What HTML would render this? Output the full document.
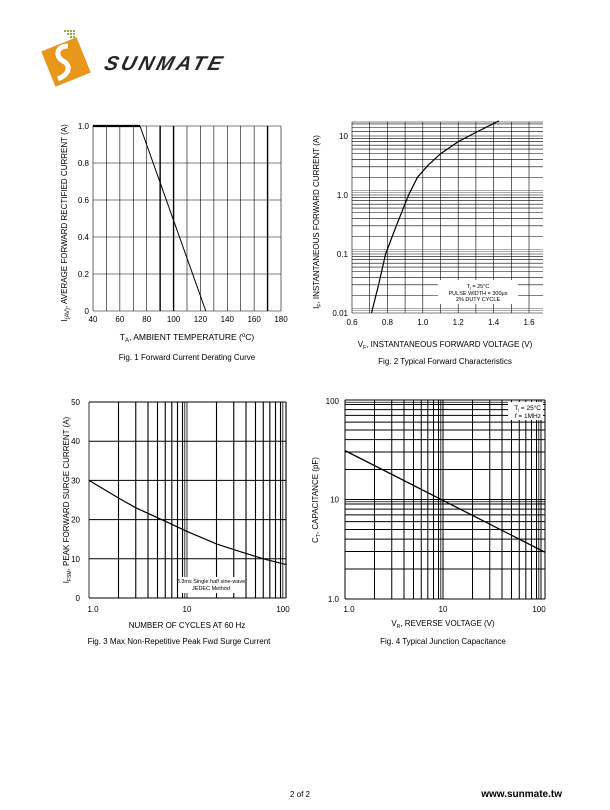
<!DOCTYPE html>
<html><head><meta charset="utf-8"><style>
body{margin:0;background:#fff;width:610px;height:810px;overflow:hidden;font-family:"Liberation Sans",sans-serif}
svg{position:absolute;left:0;top:0}
</style></head><body>
<svg id="s" width="610" height="810" viewBox="0 0 610 810" font-family="Liberation Sans, sans-serif"></svg>
<script>
var o='';
function L(x1,y1,x2,y2,w,c){o+='<line x1="'+x1+'" y1="'+y1+'" x2="'+x2+'" y2="'+y2+'" stroke="'+(c||'#000')+'" stroke-width="'+(w||0.8)+'"/>';}
function T(x,y,t,sz,a,extra){o+='<text x="'+x+'" y="'+y+'" font-size="'+(sz||8)+'" text-anchor="'+(a||'middle')+'" '+(extra||'')+'>'+t+'</text>';}
var lg=Math.log10;
// logo
o+='<g transform="translate(66,62) rotate(-22)"><rect x="-19" y="-19" width="38" height="38" fill="#e8961c"/></g>';
o+='<path d="M68,46 C56,46 55,57 63,61 C71,65 70,74 58,79" stroke="#fff" stroke-width="5" fill="none"/>';
for(var i=0;i<4;i++)for(var j=0;j<=i;j++)o+='<rect x="'+(64+i*3)+'" y="'+(30+j*3)+'" width="2" height="2" fill="#9aa84a"/>';
T(104,70,'SUNMATE',20,'start','font-weight="bold" font-style="italic" fill="#2a2522" letter-spacing="3" textLength="120" lengthAdjust="spacingAndGlyphs" transform="skewX(-15) translate(18,0)"');
// Fig1
var x0=93,x1=281,y0=126,y1=311;
for(var t=40;t<=180;t+=10){var x=x0+(t-40)/140*(x1-x0);L(x,y0,x,y1,(t==90||t==100||t==170)?1.4:0.6);}
for(var v=0;v<=1;v+=0.2){var y=y1-v*(y1-y0);L(x0,y,x1,y,0.6);T(x0-4,y+3,v<0.01?'0':v.toFixed(1),8,'end');}
for(var t=40;t<=180;t+=20)T(x0+(t-40)/140*(x1-x0),y1+11,t,8);
L(x0,y0,x0+(75-40)/140*188,y0,2.2);
L(x0+(75-40)/140*188,y0,x0+(124-40)/140*188,y1,1);
T(187,340,'T<tspan font-size="6" dy="2">A</tspan><tspan dy="-2">, AMBIENT TEMPERATURE (</tspan><tspan font-size="6" dy="-3">o</tspan><tspan dy="3">C)</tspan>',8.5);
T(187,360,'Fig. 1 Forward Current Derating Curve',8);
T(0,0,'I<tspan font-size="6" dy="2">(AV)</tspan><tspan dy="-2">, AVERAGE FORWARD RECTIFIED CURRENT (A)</tspan>',8,'middle','transform="translate(67,223) rotate(-90)"');
// Fig2
x0=352;x1=543;y0=122;y1=313;var dec=59;
function Y2(v){return 313-(lg(v)+2)*dec;}
for(var v=0.6;v<=1.71;v+=0.1){var x=x0+(v-0.6)*177;if(x<=x1+1)L(x,y0,x,y1,0.6);}
[0.01,0.1,1].forEach(function(d){for(var k=1;k<10;k++){var y=Y2(d*k);L(x0,y,x1,y,0.6);}L(x0,Y2(d*1.1),x1,Y2(d*1.1),0.5,'#555');L(x0,Y2(d*1.2),x1,Y2(d*1.2),0.5,'#555');});
L(x0,Y2(10),x1,Y2(10),0.6);
[12,14,16].forEach(function(v){L(x0,Y2(v),x1,Y2(v),0.6);});
L(x0,y0,x1,y0,0.6);
o+='<rect x="438" y="280" width="80" height="24" fill="#fff"/>';
T(478,288,'T<tspan font-size="4" dy="1">j</tspan><tspan dy="-1"> = 25°C</tspan>',5.5);
T(478,295,'PULSE WIDTH = 300μs',5.5);T(478,301,'2% DUTY CYCLE',5.5);
var pts=[[0.71,0.01],[0.75,0.03],[0.79,0.1],[0.85,0.3],[0.92,1],[0.97,2],[1.03,3.2],[1.1,5],[1.2,8],[1.3,11.5],[1.43,18]];
var d='';pts.forEach(function(p,i){d+=(i?'L':'M')+(x0+(p[0]-0.6)*177).toFixed(1)+','+Y2(p[1]).toFixed(1);});
o+='<path d="'+d+'" stroke="#000" stroke-width="1.2" fill="none" stroke-linejoin="round"/>';
[['10',10],['1.0',1],['0.1',0.1],['0.01',0.01]].forEach(function(a){T(x0-4,Y2(a[1])+3,a[0],8,'end');});
for(var v=0.6;v<=1.61;v+=0.2)T(x0+(v-0.6)*177,y1+12,v.toFixed(1),8);
T(445,347,'V<tspan font-size="5" dy="2">F</tspan><tspan dy="-2">, INSTANTANEOUS FORWARD VOLTAGE (V)</tspan>',8);
T(445,364,'Fig. 2 Typical Forward Characteristics',8);
T(0,0,'I<tspan font-size="5" dy="2">F</tspan><tspan dy="-2">, INSTANTANEOUS FORWARD CURRENT (A)</tspan>',8,'middle','transform="translate(319,222) rotate(-90)"');
// Fig3
x0=89;x1=286;y0=402;y1=598;
function X3(v){return 89+lg(v)*98;}
[1,10].forEach(function(d){for(var k=1;k<10;k++){var x=X3(d*k);L(x,y0,x,y1,k==1?0.8:1.1);}});
L(X3(9.5),y0,X3(9.5),y1,0.8);L(X3(95),y0,X3(95),y1,0.8);L(x1,y0,x1,y1,1.1);
for(var v=0;v<=50;v+=10){var y=y1-v*3.92;L(x0,y,x1,y,1);T(x0-9,y+3,v,8,'end');}
o+='<rect x="180" y="577" width="62" height="16" fill="#fff"/>';
T(211,583,'8.3ms Single half sine-wave',5.5);T(211,590,'JEDEC Method',5.5);
pts=[[1,30],[2,25.5],[3,23],[5.5,20],[10,17],[20,13.8],[35,11.8],[60,10],[100,8.6],[104,8.5]];
d='';pts.forEach(function(p,i){d+=(i?'L':'M')+X3(p[0]).toFixed(1)+','+(y1-p[1]*3.92).toFixed(1);});
o+='<path d="'+d+'" stroke="#000" stroke-width="1.2" fill="none"/>';
T(x0+4,y1+14,'1.0',8);T(X3(10),y1+14,'10',8);T(X3(100)-2,y1+14,'100',8);
T(187,628,'NUMBER OF CYCLES AT 60 Hz',8);
T(179,644,'Fig. 3  Max Non-Repetitive Peak Fwd Surge Current',8);
T(0,0,'I<tspan font-size="5" dy="2">FSM</tspan><tspan dy="-2">, PEAK FORWARD SURGE CURRENT (A)</tspan>',8,'middle','transform="translate(69,500) rotate(-90)"');
// Fig4
x0=345;x1=545;y0=400;y1=599;
function X4(v){return 345+lg(v)*98;}function Y4(v){return 599-lg(v)*99.5;}
[1,10,100].forEach(function(d){for(var k=1;k<10;k++){var x=X4(d*k);if(x<=x1)L(x,y0,x,y1,1);var y=Y4(d*k);if(y>=y0-1)L(x0,y,x1,y,1);}});
L(x0,Y4(9.5),x1,Y4(9.5),0.8);L(x0,Y4(95),x1,Y4(95),0.8);L(X4(9.5),y0,X4(9.5),y1,0.8);L(X4(95),y0,X4(95),y1,0.8);
L(x1,y0,x1,y1,1);L(x0,y0,x1,y0,1);
o+='<rect x="508" y="402" width="35" height="18" fill="#fff"/>';
T(541,410,'T<tspan font-size="4" dy="1">j</tspan><tspan dy="-1"> = 25°C</tspan>',6.5,'end');T(541,418,'f = 1MHz',6.5,'end');
L(x0,Y4(31),x1,Y4(2.95),1.3);
T(x0-6,y0+4,'100',8,'end');T(x0-6,Y4(10)+3,'10',8,'end');T(x0-6,y1+3,'1.0',8,'end');
T(x0+4,y1+13,'1.0',8);T(X4(10),y1+13,'10',8);T(X4(100)-2,y1+13,'100',8);
T(443,626,'V<tspan font-size="5" dy="2">R</tspan><tspan dy="-2">, REVERSE VOLTAGE (V)</tspan>',8);
T(443,644,'Fig. 4 Typical Junction Capacitance',8);
T(0,0,'C<tspan font-size="5" dy="2">T</tspan><tspan dy="-2">, CAPACITANCE (pF)</tspan>',8,'middle','transform="translate(318,500) rotate(-90)"');
// footer
T(300,797,'2 of 2',8);
T(562,797,'www.sunmate.tw',10,'end','font-weight="bold"');
document.getElementById('s').innerHTML=o;
</script>
</body></html>
